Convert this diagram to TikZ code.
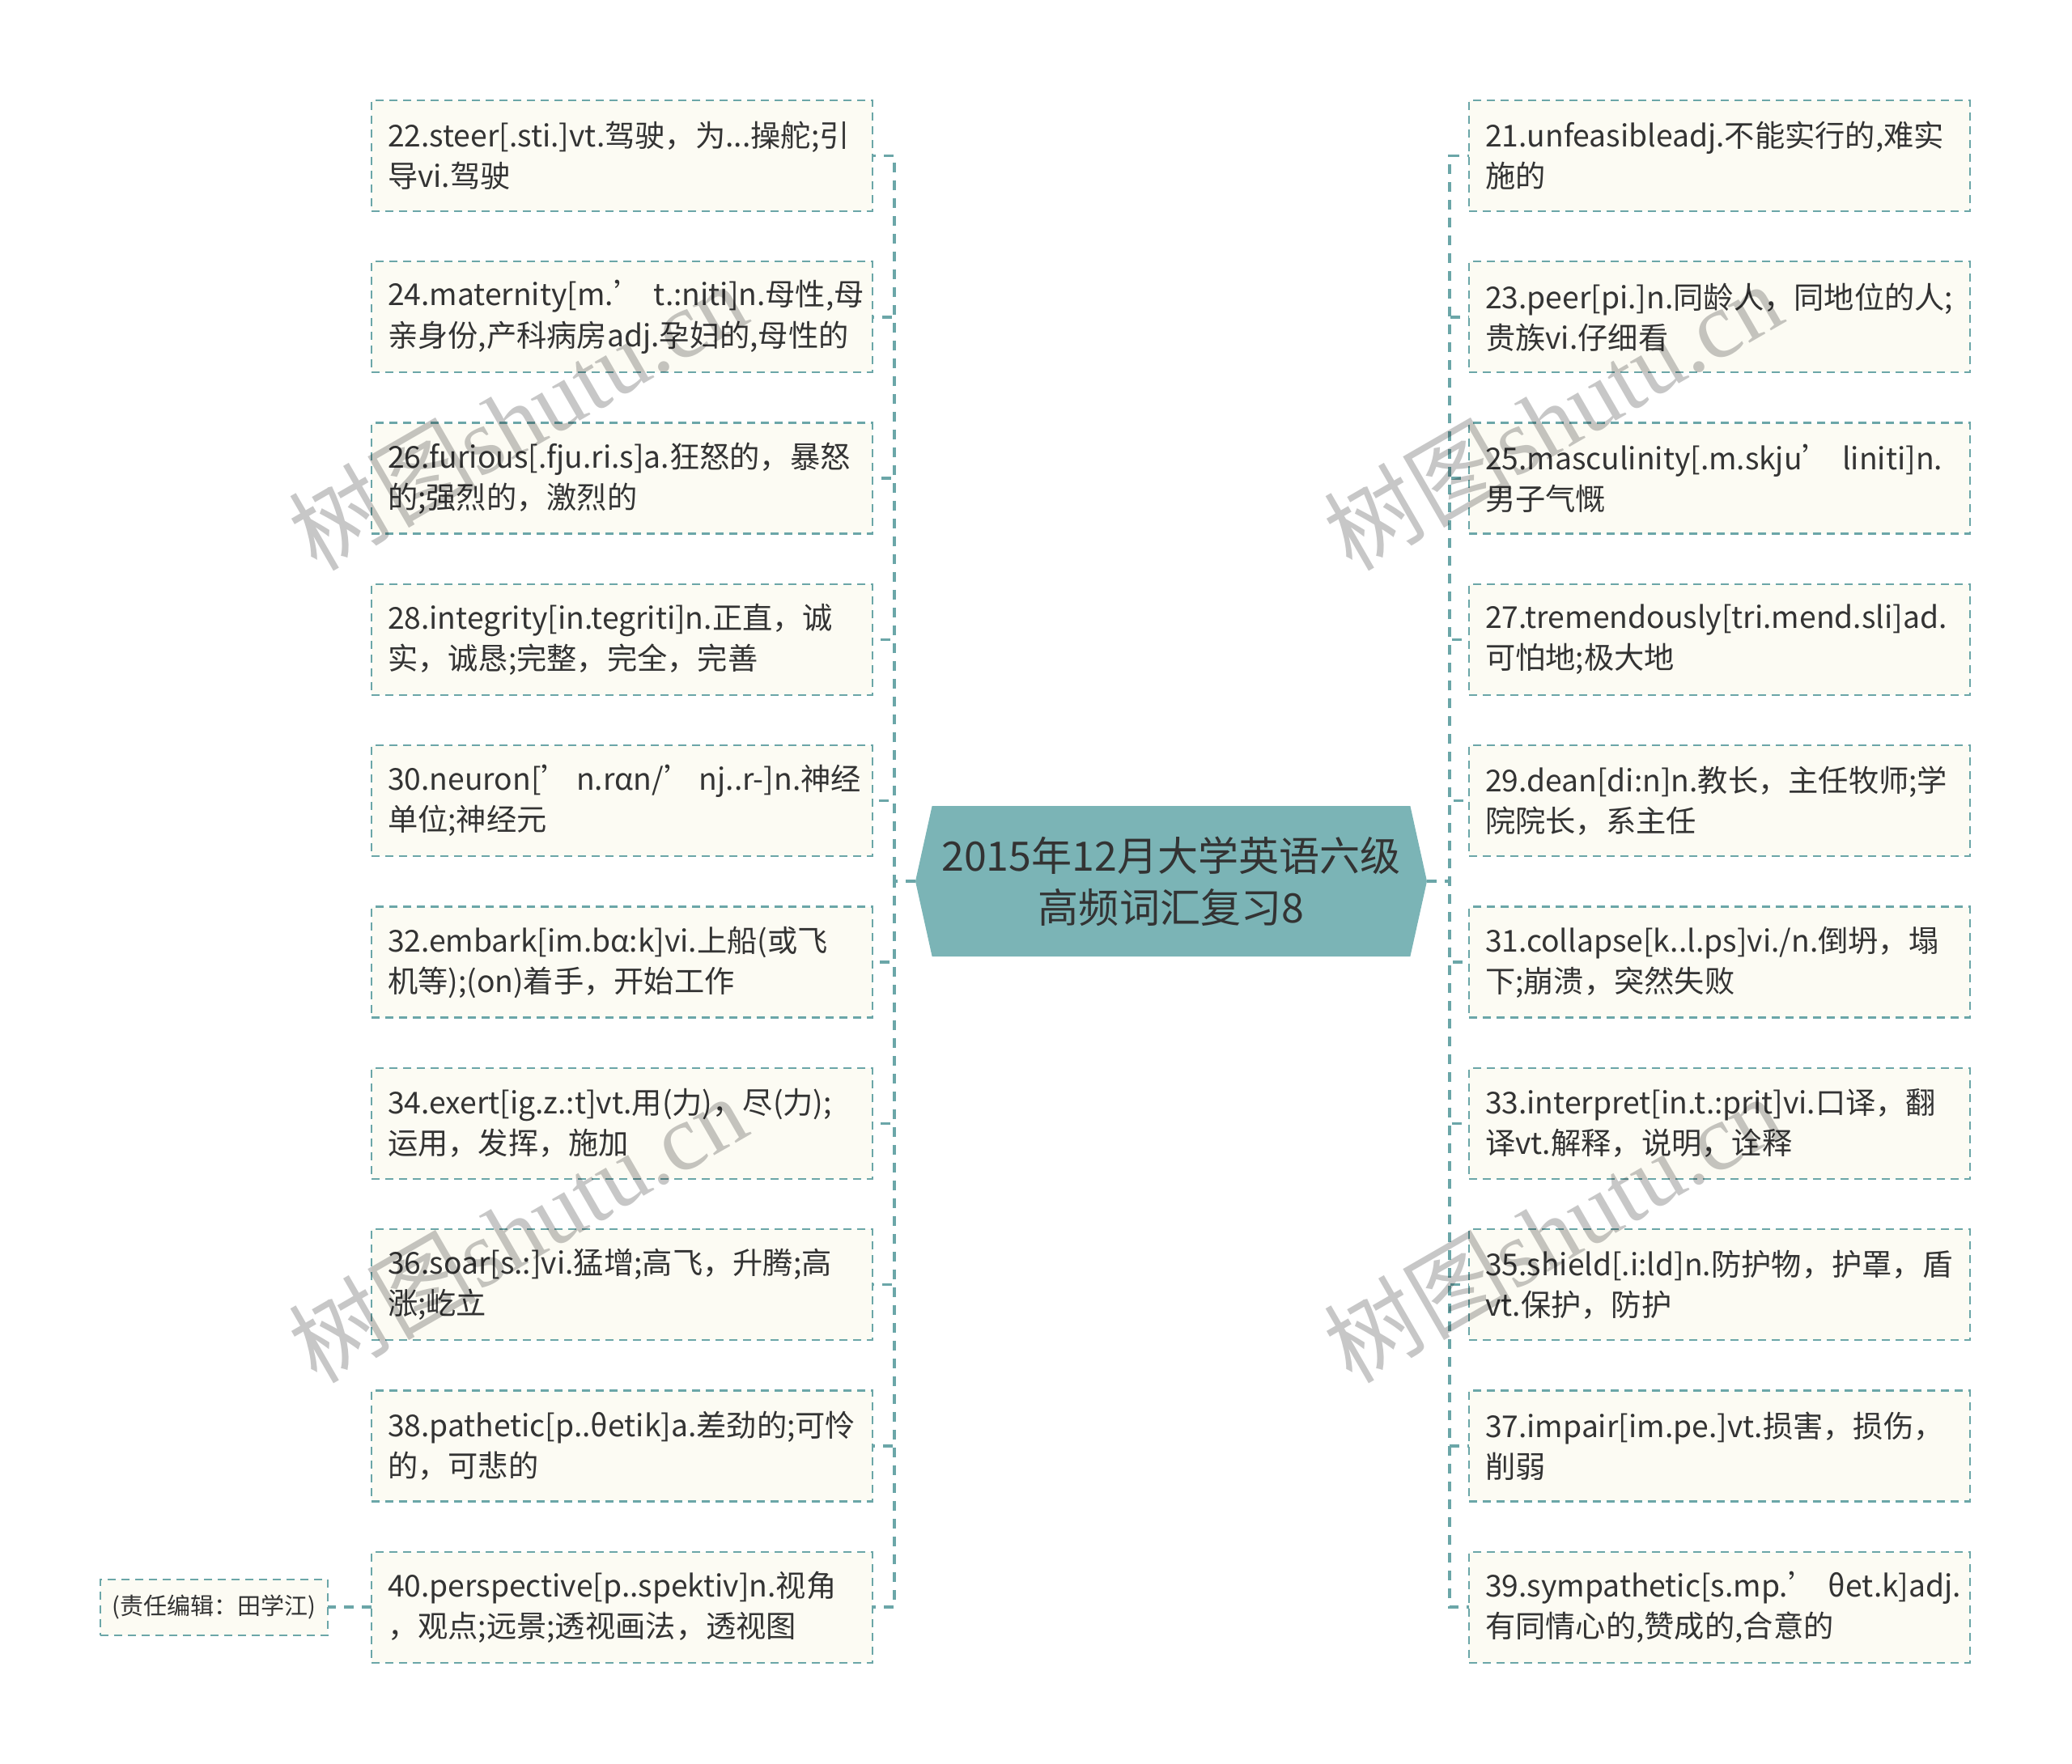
\documentclass[tikz,border=0pt]{standalone}
\usepackage{fontspec}
\setmainfont{Noto Sans CJK SC}
\newfontfamily\wmserif{Liberation Serif}
\usepackage{tikz}
\usetikzlibrary{positioning}
\usetikzlibrary{shapes.symbols}
\definecolor{linkc}{RGB}{107,166,168}
\definecolor{boxc}{RGB}{252,251,243}
\definecolor{rootc}{RGB}{123,180,182}
\definecolor{txtc}{RGB}{51,51,51}
\tikzset{word node/.style={draw=linkc,fill=boxc,line width=0.045cm,dash pattern=on 0.2cm off 0.14cm,text=txtc,text width=11.58cm,minimum height=2.74cm,inner xsep=0.4cm,inner ysep=0pt,outer sep=0pt,align=left,font=\fontsize{21.2pt}{28.5pt}\selectfont},
title node/.style={signal,signal to=west and east,signal pointer angle=155,fill=rootc,text=txtc,minimum width=12.64cm,minimum height=3.72cm,inner sep=0pt,outer sep=0pt,align=center,font=\fontsize{28.5pt}{36.4pt}\selectfont},
note node/.style={draw=linkc,fill=boxc,line width=0.045cm,dash pattern=on 0.2cm off 0.14cm,text=txtc,minimum width=5.62cm,minimum height=1.38cm,inner sep=0pt,outer sep=0pt,font=\fontsize{16.5pt}{20pt}\selectfont},
link/.style={linkc,line width=0.07cm,dash pattern=on 0.24cm off 0.2cm},
lbranch/.style={to path={-- ++(-0.52,0) |- (\tikztotarget)}},
rbranch/.style={to path={-- ++(0.56,0) |- (\tikztotarget)}},
wm node/.style={rotate=30,text=black,text opacity=0.22,font=\fontsize{66pt}{66pt}\selectfont},}
\begin{document}
\begin{tikzpicture}[node distance=1.246cm]
	\useasboundingbox (0,0) rectangle (51.2,-43.58);
	\node[title node] (r) at (28.94,-21.78) {2015年12月大学英语六级\\高频词汇复习8};

	\node[word node, anchor=north west] (w22) at (9.18,-2.48) {22.steer[.sti.]vt.驾驶，为...操舵;引\\导vi.驾驶};
	\node[word node] (w24) [below = of w22] {24.maternity[m.’~t.:niti]n.母性,母\\亲身份,产科病房adj.孕妇的,母性的};
	\node[word node] (w26) [below = of w24] {26.furious[.fju.ri.s]a.狂怒的，暴怒\\的;强烈的，激烈的};
	\node[word node] (w28) [below = of w26] {28.integrity[in.tegriti]n.正直，诚\\实，诚恳;完整，完全，完善};
	\node[word node] (w30) [below = of w28] {\mbox{30.neuron[’\,n.rαn/’\,nj..r-]n.神经}\\单位;神经元};
	\node[word node] (w32) [below = of w30] {32.embark[im.bα:k]vi.上船(或飞\\机等);(on)着手，开始工作};
	\node[word node] (w34) [below = of w32] {34.exert[ig.z.:t]vt.用(力)，尽(力);\\运用，发挥，施加};
	\node[word node] (w36) [below = of w34] {36.soar[s.:]vi.猛增;高飞，升腾;高\\涨;屹立};
	\node[word node] (w38) [below = of w36] {38.pathetic[p..θetik]a.差劲的;可怜\\的，可悲的};
	\node[word node] (w40) [below = of w38] {40.perspective[p..spektiv]n.视角\\，观点;远景;透视画法，透视图};
	\node[note node] (ed) [left = 1.08cm of w40] {(责任编辑：田学江)};

	\node[word node, anchor=north west] (w21) at (36.3,-2.48) {21.unfeasibleadj.不能实行的,难实\\施的};
	\node[word node] (w23) [below = of w21] {23.peer[pi.]n.同龄人，同地位的人;\\贵族vi.仔细看};
	\node[word node] (w25) [below = of w23] {25.masculinity[.m.skju’~liniti]n.\\男子气慨};
	\node[word node] (w27) [below = of w25] {27.tremendously[tri.mend.sli]ad.\\可怕地;极大地};
	\node[word node] (w29) [below = of w27] {29.dean[di:n]n.教长，主任牧师;学\\院院长，系主任};
	\node[word node] (w31) [below = of w29] {31.collapse[k..l.ps]vi./n.倒坍，塌\\下;崩溃，突然失败};
	\node[word node] (w33) [below = of w31] {33.interpret[in.t.:prit]vi.口译，翻\\译vt.解释，说明，诠释};
	\node[word node] (w35) [below = of w33] {35.shield[.i:ld]n.防护物，护罩，盾\\vt.保护，防护};
	\node[word node] (w37) [below = of w35] {37.impair[im.pe.]vt.损害，损伤，\\削弱};
	\node[word node] (w39) [below = of w37] {39.sympathetic[s.mp.’~θet.k]adj.\\有同情心的,赞成的,合意的};

	\path[draw,link]
	(r.west) edge [lbranch] (w22.east)
	(r.west) edge [lbranch] (w24.east)
	(r.west) edge [lbranch] (w26.east)
	(r.west) edge [lbranch] (w28.east)
	(r.west) edge [lbranch] (w30.east)
	(r.west) edge [lbranch] (w32.east)
	(r.west) edge [lbranch] (w34.east)
	(r.west) edge [lbranch] (w36.east)
	(r.west) edge [lbranch] (w38.east)
	(r.west) edge [lbranch] (w40.east)
	(r.east) edge [rbranch] (w21.west)
	(r.east) edge [rbranch] (w23.west)
	(r.east) edge [rbranch] (w25.west)
	(r.east) edge [rbranch] (w27.west)
	(r.east) edge [rbranch] (w29.west)
	(r.east) edge [rbranch] (w31.west)
	(r.east) edge [rbranch] (w33.west)
	(r.east) edge [rbranch] (w35.west)
	(r.east) edge [rbranch] (w37.west)
	(r.east) edge [rbranch] (w39.west)
	(w40.west) edge (ed.east);

	\node[wm node] (wm1) at (12.78,-10.28) {树图{\wmserif shutu.cn}};
	\node[wm node] (wm2) at (38.36,-10.28) {树图{\wmserif shutu.cn}};
	\node[wm node] (wm3) at (12.78,-30.36) {树图{\wmserif shutu.cn}};
	\node[wm node] (wm4) at (38.36,-30.36) {树图{\wmserif shutu.cn}};
\end{tikzpicture}
\end{document}
